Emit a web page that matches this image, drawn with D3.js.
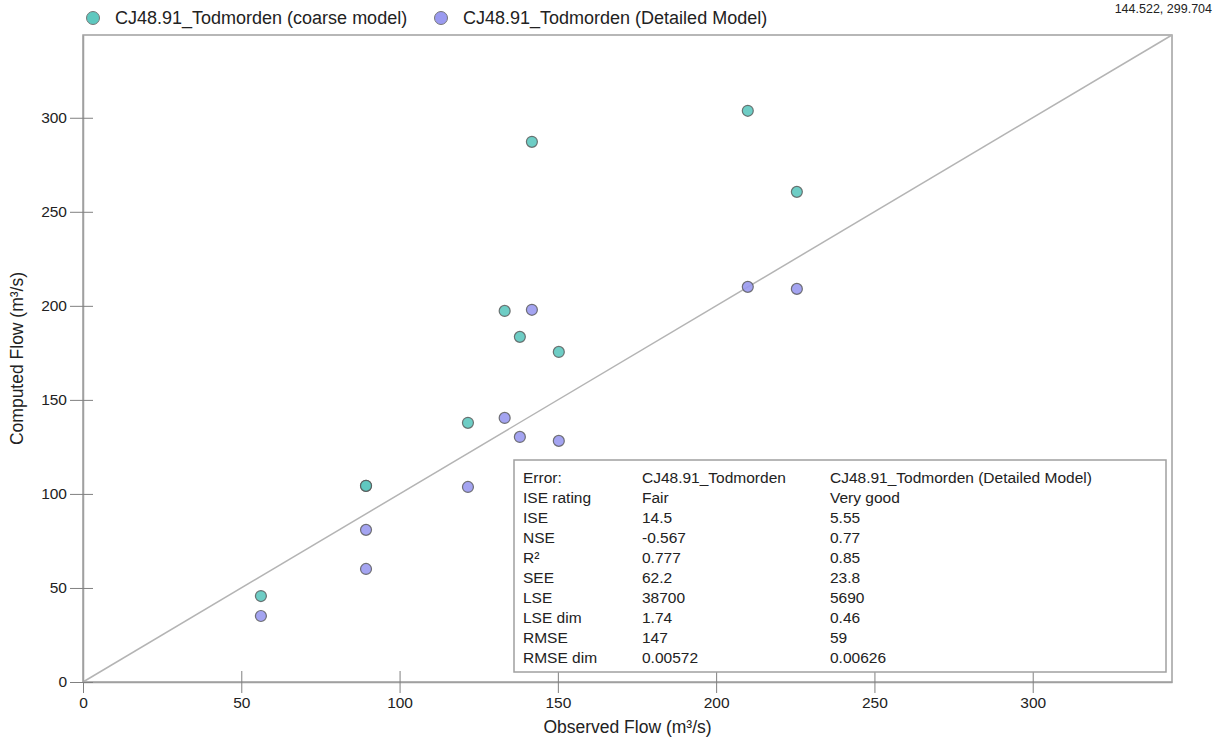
<!DOCTYPE html>
<html lang="en">
<head>
    <meta charset="UTF-8">
    <title>Todmorden flows</title>
    <script src="https://cdn.jsdelivr.net/npm/d3@7/dist/d3.min.js"></script>
    <style>
        body { margin: 0; background: #fff; }
        text { font-family: "Liberation Sans", Arial, sans-serif; fill: #222; }
    </style>
</head>
<body>
    <script>
        // observed flow (x) and computed flow (y), m3/s
        var observed = [56.2, 89.4, 89.4, 121.6, 133.2, 138.0, 141.8, 150.3, 210.0, 225.5];
        var coarse   = [45.7, 104.3, 104.3, 137.8, 197.3, 183.5, 287.2, 175.5, 303.7, 260.6];
        var detailed = [35.1, 80.9, 60.1, 103.7, 140.4, 130.3, 197.9, 128.2, 210.1, 209.0];

        var seriesNames = ["CJ48.91_Todmorden (coarse model)", "CJ48.91_Todmorden (Detailed Model)"];
        var seriesColors = ["#5ec8bf", "#9a9af0"];
        var axisTicks = [0, 50, 100, 150, 200, 250, 300];

        var statsHeader = ["Error:", "CJ48.91_Todmorden", "CJ48.91_Todmorden (Detailed Model)"];
        var statsLabels = ["ISE rating", "ISE", "NSE", "R²", "SEE", "LSE", "LSE dim", "RMSE", "RMSE dim"];
        var statsCoarse = ["Fair", "14.5", "-0.567", "0.777", "62.2", "38700", "1.74", "147", "0.00572"];
        var statsDetailed = ["Very good", "5.55", "0.77", "0.85", "23.8", "5690", "0.46", "59", "0.00626"];

        var W = 1225, H = 740;
        var svg = d3.select("body").append("svg")
            .attr("width", W).attr("height", H);

        var x = d3.scaleLinear().domain([0, 344]).range([83, 1172]);
        var y = d3.scaleLinear().domain([0, 344]).range([682, 35]);

        // frame
        svg.append("rect")
            .attr("x", x(0)).attr("y", y(344))
            .attr("width", x(344) - x(0)).attr("height", y(0) - y(344))
            .attr("fill", "none").attr("stroke", "#a0a0a0").attr("stroke-width", 1.5);

        // 1:1 line
        svg.append("line")
            .attr("x1", x(0)).attr("y1", y(0))
            .attr("x2", x(344)).attr("y2", y(344))
            .attr("stroke", "#b4b4b4").attr("stroke-width", 1.5);

        // axes
        var gx = svg.append("g").attr("transform", "translate(0," + y(0) + ")")
            .call(d3.axisBottom(x).tickValues(axisTicks).tickFormat(d3.format("d"))
                .tickSizeInner(11).tickSizeOuter(0).tickPadding(4));
        gx.selectAll(".tick line").attr("y1", -11);
        var gy = svg.append("g").attr("transform", "translate(" + x(0) + ",0)")
            .call(d3.axisLeft(y).tickValues(axisTicks).tickFormat(d3.format("d"))
                .tickSizeInner(13).tickSizeOuter(0).tickPadding(3));
        gy.selectAll(".tick line").attr("x1", 10);

        [gx, gy].forEach(function(g){
            g.select(".domain").attr("stroke", "#a0a0a0").attr("stroke-width", 1.5);
            g.selectAll(".tick line").attr("stroke", "#808080");
            g.selectAll(".tick text").attr("font-size", 15.5).attr("fill", "#222")
                .attr("font-family", "Liberation Sans, Arial, sans-serif");
        });

        svg.append("text")
            .attr("x", (x(0) + x(344)) / 2).attr("y", 733)
            .attr("text-anchor", "middle").attr("font-size", 17.5)
            .text("Observed Flow (m³/s)");
        svg.append("text")
            .attr("transform", "translate(23," + (y(0) + y(344)) / 2 + ") rotate(-90)")
            .attr("text-anchor", "middle").attr("font-size", 17.5)
            .text("Computed Flow (m³/s)");

        // points
        var series = [coarse, detailed];
        series.forEach(function(vals, i){
            svg.append("g").selectAll("circle")
                .data(vals)
                .enter().append("circle")
                .attr("cx", function(d, j){ return x(observed[j]); })
                .attr("cy", function(d){ return y(d); })
                .attr("r", 5.5)
                .attr("fill", seriesColors[i])
                .attr("fill-opacity", 0.9)
                .attr("stroke", "#555")
                .attr("stroke-opacity", 0.8)
                .attr("stroke-width", 1.2);
        });

        // legend
        var legX = [93, 441];
        seriesNames.forEach(function(name, i){
            svg.append("circle")
                .attr("cx", legX[i]).attr("cy", 18).attr("r", 6.5)
                .attr("fill", seriesColors[i]).attr("stroke", "#777").attr("stroke-width", 1);
            svg.append("text")
                .attr("x", legX[i] + 22).attr("y", 24)
                .attr("font-size", 18)
                .text(name);
        });

        // cursor readout
        svg.append("text")
            .attr("x", 1212).attr("y", 13)
            .attr("text-anchor", "end").attr("font-size", 12.5)
            .attr("fill", "#333")
            .text("144.522, 299.704");

        // stats table
        svg.append("rect")
            .attr("x", 514).attr("y", 460).attr("width", 652).attr("height", 212)
            .attr("fill", "#fff").attr("stroke", "#a0a0a0").attr("stroke-width", 1.5);
        var rows = [statsHeader].concat(statsLabels.map(function(l, i){
            return [l, statsCoarse[i], statsDetailed[i]];
        }));
        var colX = [523, 642, 830];
        var tg = svg.append("g");
        rows.forEach(function(r, i){
            r.forEach(function(cell, c){
                tg.append("text")
                    .attr("x", colX[c]).attr("y", 483 + i * 20)
                    .attr("font-size", 15.5)
                    .text(cell);
            });
        });
    </script>
</body>
</html>
